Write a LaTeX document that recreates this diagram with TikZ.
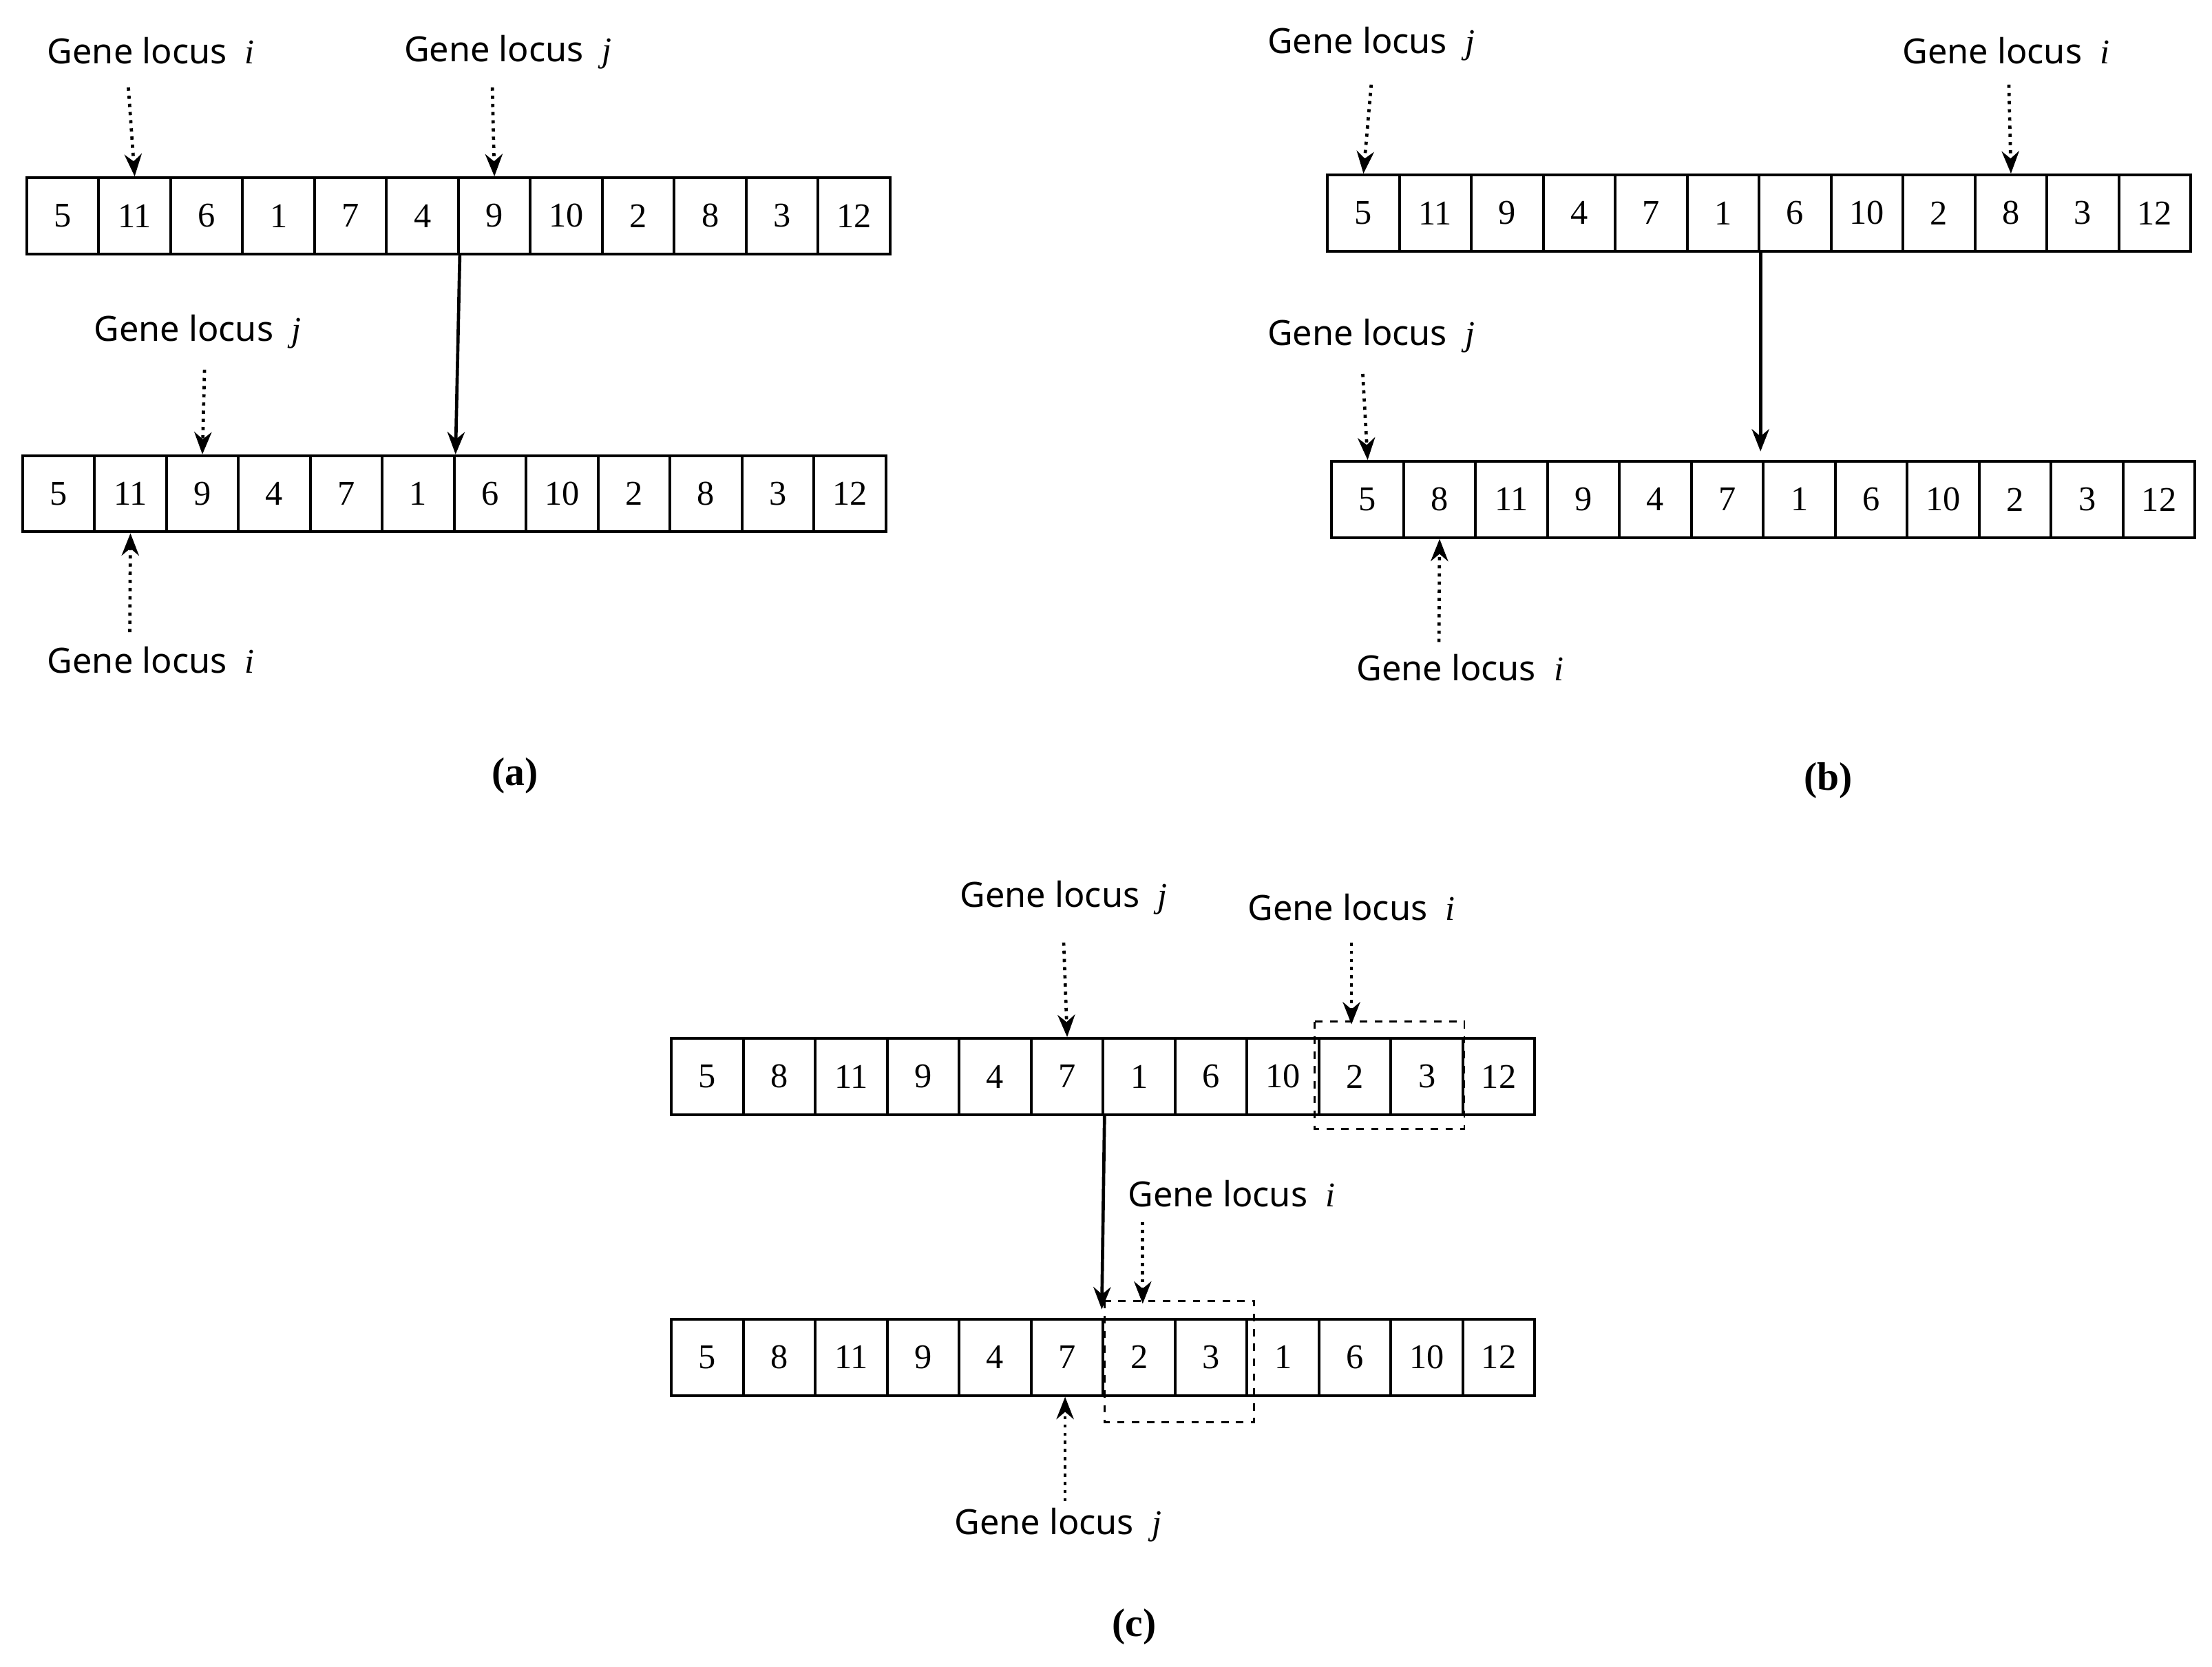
\documentclass[tikz,border=0pt]{standalone}
\usepackage{fontspec}
\setmainfont{Liberation Serif}
\newfontfamily\lab{Noto Sans}
\usetikzlibrary{arrows.meta}
\begin{document}
\begin{tikzpicture}[x=0.02cm,y=-0.02cm,
  cell/.style={draw,line width=1.1pt,minimum width=51*0.02cm,minimum height=54*0.02cm,inner sep=0,anchor=north west,font=\fontsize{14}{14}\selectfont},
  lbl/.style={font=\lab\fontsize{14}{14}\selectfont,inner sep=0},
  dot/.style={dotted,line width=1.3pt,-{Stealth[length=9pt,width=7pt]}},
  sol/.style={line width=1.3pt,-{Stealth[length=9pt,width=7pt]}},
  dbox/.style={dashed,line width=0.8pt},
  subcap/.style={font=\bfseries\fontsize{16}{16}\selectfont}]
\useasboundingbox (0,0) rectangle (1568,1181);
\newcommand\gerow[4]{% name, x0, y0, list
  \foreach \v [count=\k] in {#4} {
    \node[cell] (#1\k) at ({#2+51*(\k-1)},#3) {\v};
  }}
\newcommand\glab[3]{\node[lbl] at (#1) {Gene locus \ \textit{\fontspec{Liberation Serif}#3}};}
% (a)
\gerow{at}{18}{125}{5,11,6,1,7,4,9,10,2,8,3,12}
\gerow{ab}{15}{322}{5,11,9,4,7,1,6,10,2,8,3,12}
\glab{107,36}{}{i} \glab{360,37}{}{j} \glab{140,235}{}{j} \glab{107,468}{}{i}
\coordinate (a1) at (91,62); \draw[dot] (a1) -- (at2.north);
\coordinate (a2) at (349,62); \draw[dot] (a2) -- (at7.north);
\draw[sol] (at6.south east) -- (ab6.north east);
\coordinate (a3) at (145,262); \draw[dot] (a3) -- (ab3.north);
\coordinate (a4) at (92,448); \draw[dot] (a4) -- (ab2.south);
\node[subcap] at (365,550) {(a)};
% (b)
\gerow{bt}{940}{123}{5,11,9,4,7,1,6,10,2,8,3,12}
\gerow{bb}{943}{326}{5,8,11,9,4,7,1,6,10,2,3,12}
\glab{972,31}{}{j} \glab{1422,36}{}{i} \glab{972,238}{}{j} \glab{1035,473}{}{i}
\coordinate (b1) at (972,60); \draw[dot] (b1) -- (bt1.north);
\coordinate (b2) at (1424,60); \draw[dot] (b2) -- (bt10.north);
\draw[sol] (bt6.south east) -- ++(0,141);
\coordinate (b3) at (966,265); \draw[dot] (b3) -- (bb1.north);
\coordinate (b4) at (1020,455); \draw[dot] (b4) -- (bb2.south);
\node[subcap] at (1296,553) {(b)};
% (c)
\gerow{ct}{475}{735}{5,8,11,9,4,7,1,6,10,2,3,12}
\gerow{cb}{475}{934}{5,8,11,9,4,7,2,3,1,6,10,12}
\glab{754,636}{}{j} \glab{958,643}{}{i} \glab{873,846}{}{i} \glab{750,1081}{}{j}
\coordinate (c1) at (754,668); \draw[dot] (c1) -- (ct6.north);
\coordinate (c2) at (958,668); \draw[dot] (c2) -- (958,726);
\draw[dbox] (932,724) rectangle (1038,800);
\draw[sol] (ct6.south east) -- (781,928);
\coordinate (c3) at (810,866); \draw[dot] (c3) -- (810,924);
\draw[dbox] (783,922) rectangle (889,1008);
\coordinate (c4) at (755,1064); \draw[dot] (c4) -- (755,990);
\node[subcap] at (804,1153) {(c)};
\end{tikzpicture}
\end{document}
